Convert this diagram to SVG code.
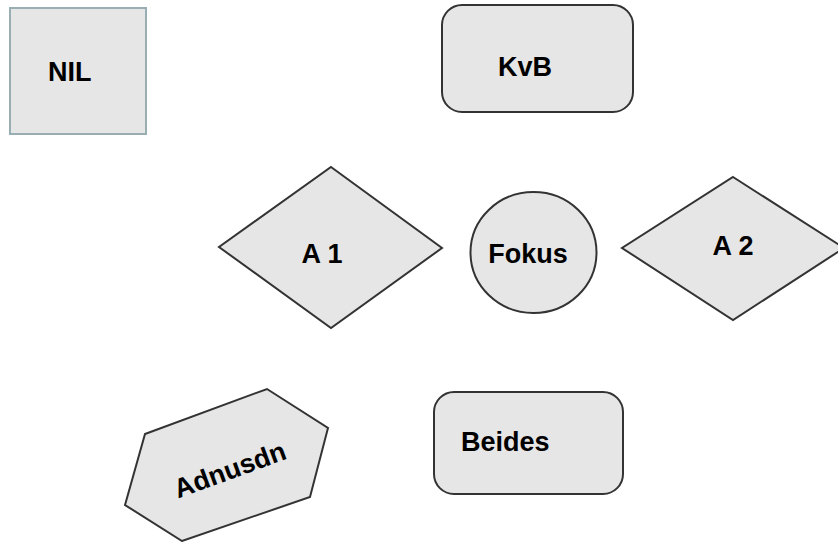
<svg xmlns="http://www.w3.org/2000/svg" width="838" height="542" viewBox="0 0 838 542">
<style>
.shape{fill:#e6e6e6;stroke:#333333;stroke-width:2}
.lbl{font-family:"Liberation Sans",Arial,sans-serif;font-weight:bold;font-size:27px;fill:#000000}
</style>
<rect width="838" height="542" fill="#ffffff"/>
<g id="connectors"></g>
<g id="node-nil">
<rect x="10" y="8" width="136" height="126" fill="#e6e6e6" stroke="#98aeb2" stroke-width="2"/>
<text class="lbl" x="48" y="81">NIL</text>
</g>
<g id="node-kvb">
<rect class="shape" x="442" y="5" width="191" height="107" rx="20" ry="20"/>
<text class="lbl" x="498" y="76">KvB</text>
</g>
<g id="node-a1">
<polygon class="shape" points="331,167 442,248 331,328 219,247"/>
<text class="lbl" x="322" y="263" text-anchor="middle">A 1</text>
</g>
<g id="node-fokus">
<ellipse class="shape" cx="533.5" cy="252.5" rx="63" ry="60.5"/>
<text class="lbl" x="528" y="263" text-anchor="middle">Fokus</text>
</g>
<g id="node-a2">
<polygon class="shape" points="733,177 844,248 733,320 622,248"/>
<text class="lbl" x="733" y="255" text-anchor="middle">A 2</text>
</g>
<g id="node-adnusdn">
<polygon class="shape" points="145,434 267,389 328,428 310,497 182,541 125,505"/>
<text class="lbl" x="230" y="479" text-anchor="middle" font-size="25" transform="rotate(-20 230 470)">Adnusdn</text>
</g>
<g id="node-beides">
<rect class="shape" x="434" y="392" width="189" height="102" rx="20" ry="20"/>
<text class="lbl" x="461" y="451">Beides</text>
</g>
</svg>
